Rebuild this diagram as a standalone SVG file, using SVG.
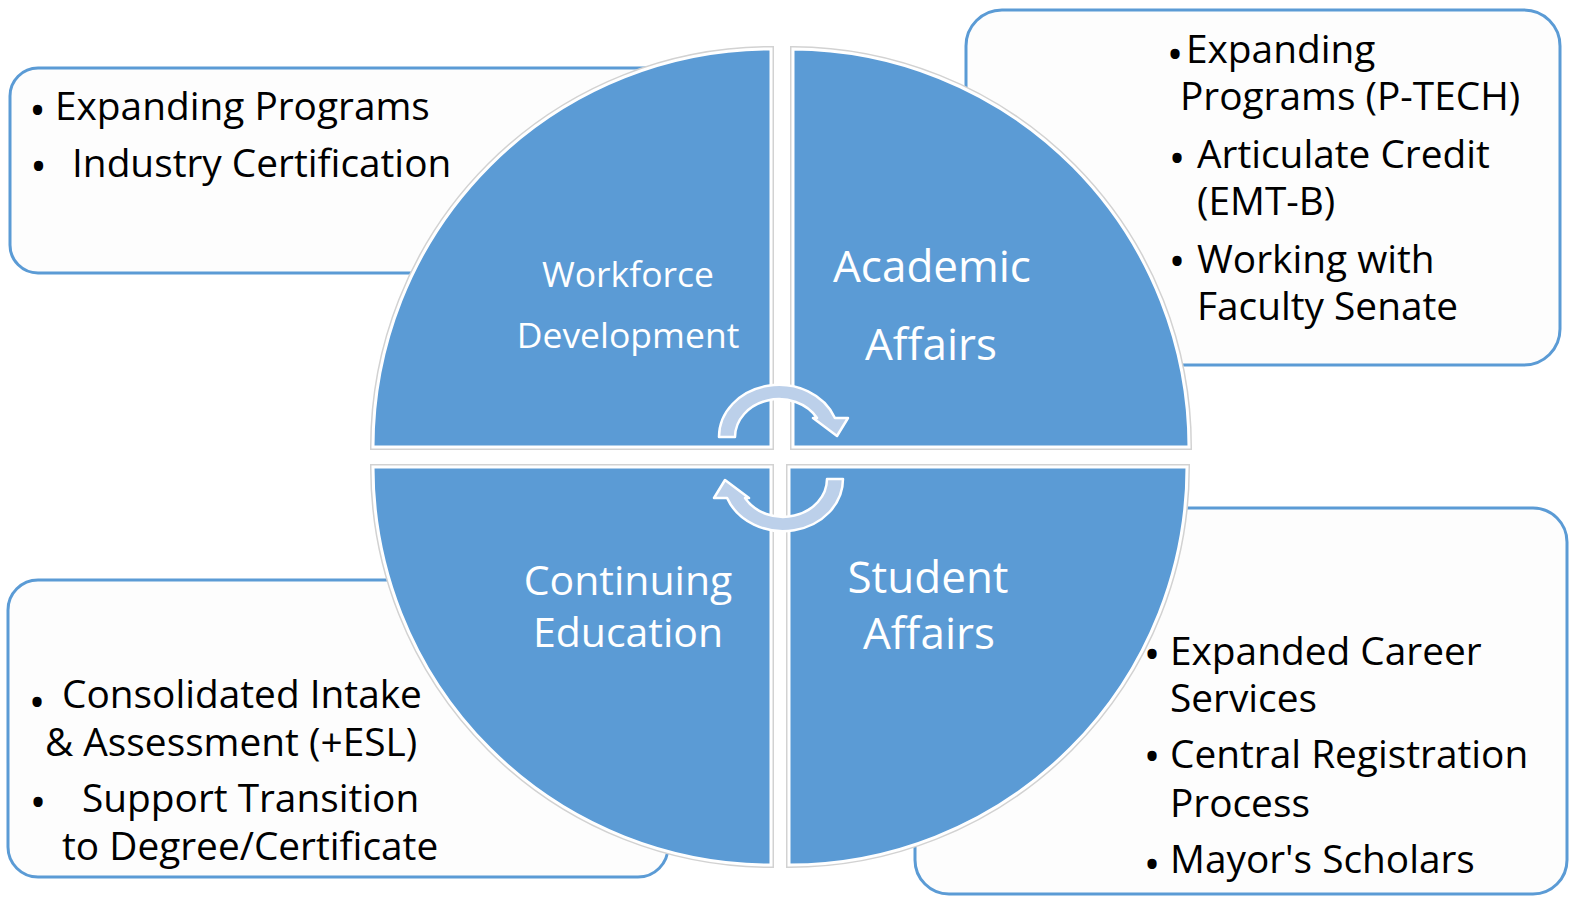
<svg xmlns="http://www.w3.org/2000/svg" width="1574" height="898" viewBox="0 0 1574 898">
<style>
.box{fill:#fdfdfd;stroke:#5b9bd5;stroke-width:3}
.qo{fill:none;stroke:#d2d2d2;stroke-width:6}
.q{fill:#5b9bd5;stroke:#ffffff;stroke-width:3}
.t{font-family:"Open Sans","Noto Sans",sans-serif;font-size:38.8px;fill:#000}
.b{font-family:"Open Sans","Noto Sans",sans-serif;font-size:44px;fill:#000;text-anchor:middle}
.w{font-family:"Open Sans","Noto Sans",sans-serif;fill:#fff;text-anchor:middle}
.arr{fill:#bcd0ea;stroke:#ffffff;stroke-width:2.5;stroke-linejoin:round}
</style>
<rect width="1574" height="898" fill="#ffffff"/>
<g id="box-workforce">
<rect class="box" x="10" y="68" width="720" height="205" rx="28"/>
<text class="b" x="37.5" y="126">•</text><text class="t" x="55" y="120">Expanding Programs</text>
<text class="b" x="38.5" y="182">•</text><text class="t" x="72" y="177">Industry Certification</text>
</g>
<g id="box-academic">
<rect class="box" x="966" y="10" width="594" height="355" rx="36"/>
<text class="b" x="1175" y="70">•</text><text class="t" x="1186" y="63">Expanding</text>
<text class="t" x="1180" y="110">Programs (P-TECH)</text>
<text class="b" x="1177" y="174">•</text><text class="t" x="1197" y="168">Articulate Credit</text>
<text class="t" x="1197" y="215">(EMT-B)</text>
<text class="b" x="1177" y="277">•</text><text class="t" x="1197" y="273">Working with</text>
<text class="t" x="1197" y="320">Faculty Senate</text>
</g>
<g id="box-continuing">
<rect class="box" x="8" y="580" width="660" height="297" rx="30"/>
<text class="b" x="37" y="718">•</text><text class="t" x="62" y="708">Consolidated Intake</text>
<text class="t" x="45" y="756">&amp; Assessment (+ESL)</text>
<text class="b" x="38" y="818">•</text><text class="t" x="82" y="812">Support Transition</text>
<text class="t" x="62" y="860">to Degree/Certificate</text>
</g>
<g id="box-student">
<rect class="box" x="915" y="508" width="652" height="386" rx="34"/>
<text class="b" x="1152" y="670">•</text><text class="t" x="1170" y="665">Expanded Career</text>
<text class="t" x="1170" y="712">Services</text>
<text class="b" x="1152" y="772">•</text><text class="t" x="1170" y="768">Central Registration</text>
<text class="t" x="1170" y="817">Process</text>
<text class="b" x="1152" y="880">•</text><text class="t" x="1170" y="873">Mayor's Scholars</text>
</g>
<g id="q-workforce">
<path class="qo" d="M771 447 L373 447 A398 398 0 0 1 771 49 Z"/>
<path class="q" d="M771 447 L373 447 A398 398 0 0 1 771 49 Z"/>
<text class="w" x="628" y="287" font-size="35.5">Workforce</text>
<text class="w" x="628" y="348" font-size="35.5">Development</text>
</g>
<g id="q-academic">
<path class="qo" d="M793 447 L793 49 A398 398 0 0 1 1189 447 Z"/>
<path class="q" d="M793 447 L793 49 A398 398 0 0 1 1189 447 Z"/>
<text class="w" x="932" y="282" font-size="44">Academic</text>
<text class="w" x="931" y="360" font-size="44">Affairs</text>
</g>
<g id="q-continuing">
<path class="qo" d="M771 467 L771 865 A398 398 0 0 1 373 467 Z"/>
<path class="q" d="M771 467 L771 865 A398 398 0 0 1 373 467 Z"/>
<text class="w" x="628" y="595" font-size="41">Continuing</text>
<text class="w" x="628" y="647" font-size="41">Education</text>
</g>
<g id="q-student">
<path class="qo" d="M789 467 L1187 467 A398 398 0 0 1 789 865 Z"/>
<path class="q" d="M789 467 L1187 467 A398 398 0 0 1 789 865 Z"/>
<text class="w" x="928" y="593" font-size="44">Student</text>
<text class="w" x="929" y="649" font-size="44">Affairs</text>
</g>
<g id="connectors">
<path id="arrow-top" class="arr" d="M719 437 A60 52 0 0 1 834.9 418 L848 418 L837 436 L813 418 L817 418 A44 38 0 0 0 735 437 Z"/>
<path id="arrow-bottom" class="arr" transform="rotate(180 781 458)" d="M719 437 A60 52 0 0 1 834.9 418 L848 418 L837 436 L813 418 L817 418 A44 38 0 0 0 735 437 Z"/>
</g>
</svg>
